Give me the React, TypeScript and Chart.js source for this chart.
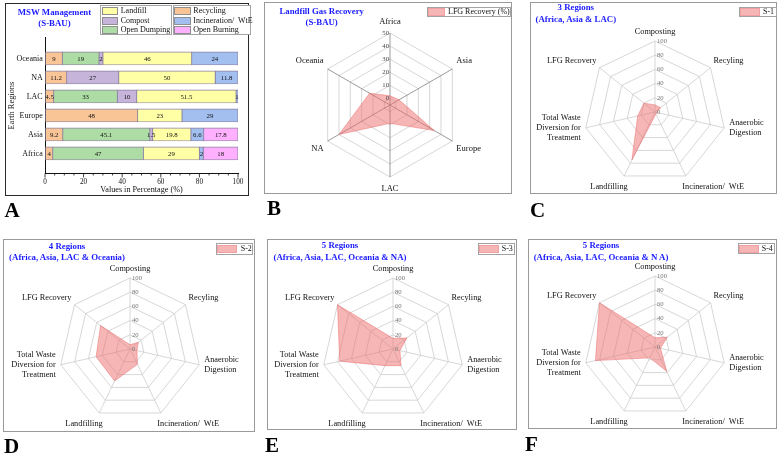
import React, { useEffect, useRef } from "react";
import { Chart, registerables } from "chart.js";

Chart.register(...registerables);

const SERIF = "'Liberation Serif', 'Times New Roman', serif";

// ---------- Panel A data ----------
const regions = ["Oceania", "NA", "LAC", "Europe", "Asia", "Africa"];
const recycling = [9, 11.2, 4.5, 48, 9.2, 4];
const openDumping = [19, null, 33, null, 45.1, 47];
const compost = [2, 27, 10, null, 1.5, null];
const landfill = [46, 50, 51.5, 23, 19.8, 29];
const incineration = [24, 11.8, 1, 29, 6.6, 2];
const openBurning = [null, null, null, null, 17.8, 18];
const percentTicks = [0, 20, 40, 60, 80, 100];
const minorTickStep = 5;

// ---------- Panel B data ----------
const lfgRegions = ["Africa", "Asia", "Europe", "LAC", "NA", "Oceania"];
const lfgRecovery = [2, 3, 34, 9, 40, 13];
const lfgTicks = [0, 10, 20, 30, 40, 50];

// ---------- Panels C-F data ----------
const methods = [
  ["Composting"],
  ["Recyling"],
  ["Anaerobic", "Digestion"],
  ["Incineration/  WtE"],
  ["Landfilling"],
  ["Total Waste", "Diversion for", "Treatment"],
  ["LFG Recovery"],
];
const scenario1 = [10, 10, 3, 3, 75, 25, 20];
const scenario2 = [6, 15, 10, 24, 50, 49, 53];
const scenario3 = [15, 25, 10, 26, 26, 77, 100];
const scenario4 = [13, 22, 8, 38, 17, 86, 100];
const diversionTicks = [0, 20, 40, 60, 80, 100];

// ---------- styles ----------
const barSeries = [
  { name: "Recycling", values: recycling, color: "#F9C597" },
  { name: "Open Dumping", values: openDumping, color: "#ADDCA5" },
  { name: "Compost", values: compost, color: "#C6B4DA" },
  { name: "Landfill", values: landfill, color: "#FFFFA6" },
  { name: "Incineration/  WtE", values: incineration, color: "#A2BFF0" },
  { name: "Open Burning", values: openBurning, color: "#FFB0FF" },
];
const barEdge = "#8a80a0";
const pinkFill = "rgba(240,110,110,0.5)";
const pinkEdge = "rgba(230,100,100,0.65)";
const titleBlue = "#1a1aff";

const barLabelPlugin = {
  id: "barLabels",
  afterDatasetsDraw(chart: any) {
    const ctx = chart.ctx;
    ctx.save();
    ctx.font = `6.8px ${SERIF}`;
    ctx.fillStyle = "#111";
    ctx.textAlign = "center";
    ctx.textBaseline = "middle";
    chart.data.datasets.forEach((ds: any, di: number) => {
      const meta = chart.getDatasetMeta(di);
      meta.data.forEach((el: any, i: number) => {
        const raw = ds.data[i];
        if (!raw) return;
        const p = el.getProps(["x", "y", "base"], true);
        ctx.fillText(String(raw.x), (p.x + p.base) / 2, p.y + 0.5);
      });
    });
    ctx.restore();
  },
};

const xTickMarks = {
  id: "xTickMarks",
  afterDraw(chart: any) {
    const xs = chart.scales.x;
    const ctx = chart.ctx;
    const b = chart.chartArea.bottom;
    ctx.save();
    ctx.strokeStyle = "#111";
    ctx.lineWidth = 0.8;
    for (let v = xs.min; v <= xs.max; v += minorTickStep) {
      const px = xs.getPixelForValue(v);
      const len = percentTicks.includes(v) ? 4 : 2;
      ctx.beginPath();
      ctx.moveTo(px, b);
      ctx.lineTo(px, b + len);
      ctx.stroke();
    }
    ctx.restore();
  },
};

function BarPanel() {
  const ref = useRef<HTMLCanvasElement>(null);
  useEffect(() => {
    const datasets = barSeries.map((s) => ({
      label: s.name,
      data: s.values.flatMap((v, i) => (v == null ? [] : [{ x: v, y: i }])),
      backgroundColor: s.color,
      borderColor: barEdge,
      borderWidth: 0.8,
      borderSkipped: false,
      barThickness: 13,
    }));
    const chart = new Chart(ref.current as HTMLCanvasElement, {
      type: "bar",
      data: { datasets } as any,
      options: {
        indexAxis: "y",
        responsive: false,
        animation: false,
        events: [],
        layout: { padding: { top: 37.6, left: 0, right: 12, bottom: 0 } },
        plugins: { legend: { display: false }, tooltip: { enabled: false } },
        scales: {
          x: {
            type: "linear",
            min: 0,
            max: 100,
            stacked: true,
            afterBuildTicks: (s: any) => {
              s.ticks = percentTicks.map((v) => ({ value: v }));
            },
            afterFit: (s: any) => {
              s.height = 26.5;
            },
            ticks: {
              font: { family: SERIF, size: 7.2 },
              color: "#111",
              padding: 4.5,
              maxRotation: 0,
              autoSkip: false,
            },
            grid: { drawOnChartArea: false, drawTicks: false },
            border: { display: true, color: "#111", width: 1 },
            title: {
              display: true,
              text: "Values in Percentage (%)",
              font: { family: SERIF, size: 8.2 },
              color: "#111",
              padding: { top: 0, bottom: 5 },
            },
          },
          y: {
            type: "linear",
            min: -0.5,
            max: 5.46,
            reverse: true,
            stacked: true,
            afterBuildTicks: (s: any) => {
              s.ticks = regions.map((_, i) => ({ value: i }));
            },
            afterFit: (s: any) => {
              s.width = 45;
            },
            ticks: {
              callback: (v: any) => regions[v as number],
              font: { family: SERIF, size: 8 },
              color: "#111",
              padding: 2.3,
              autoSkip: false,
            },
            grid: { drawOnChartArea: false, drawTicks: false },
            border: { display: true, color: "#111", width: 1 },
            title: {
              display: true,
              text: "Earth Regions",
              font: { family: SERIF, size: 8.4 },
              color: "#111",
              padding: { top: 7, bottom: 0 },
            },
          },
        },
      } as any,
      plugins: [barLabelPlugin, xTickMarks],
    });
    return () => chart.destroy();
  }, []);
  return (
    <canvas
      ref={ref}
      width={250}
      height={200}
      style={{ position: "absolute", left: 0, top: 0, width: 250, height: 200 }}
    />
  );
}

type LabelCfg = {
  topPad: number;
  bottomPad: number;
  upY: number;
  downY: number;
  diagX: number;
  lowDiagX: number;
  sideX: number;
};

type RadarProps = {
  rect: number[];
  center: number[];
  radius: number;
  labels: string[][];
  values: number[];
  seriesName: string;
  min: number;
  max: number;
  step: number;
  tickValues: number[];
  tickSide: "left" | "right";
  tickColor: string;
  gridColor: string;
  angleColor: string;
  lab: LabelCfg;
  labelSize: number;
};

function RadarPanel(props: RadarProps) {
  const ref = useRef<HTMLCanvasElement>(null);
  const [x0, y0, w, h] = props.rect;
  useEffect(() => {
    const [cx, cy] = props.center;
    const r = props.radius;
    const padding = {
      left: cx - r - x0,
      top: cy - r - y0,
      right: x0 + w - cx - r,
      bottom: y0 + h - cy - r,
    };
    const lab = props.lab;
    const decor = {
      id: "radarDecor",
      afterDraw(chart: any) {
        const s = chart.scales.r;
        const ctx = chart.ctx;
        ctx.save();
        // tick labels
        ctx.font = `6.7px ${SERIF}`;
        ctx.fillStyle = props.tickColor;
        ctx.textBaseline = "middle";
        ctx.textAlign = props.tickSide === "left" ? "right" : "left";
        props.tickValues.forEach((v) => {
          const d = s.getDistanceFromCenterForValue(v);
          const tx = props.tickSide === "left" ? s.xCenter - 1 : s.xCenter + 2;
          ctx.fillText(String(v), tx, s.yCenter - d);
        });
        // point labels
        const lh = props.labelSize * 1.22;
        ctx.font = `${props.labelSize}px ${SERIF}`;
        ctx.fillStyle = "#111";
        const n = props.labels.length;
        for (let i = 0; i < n; i++) {
          const p = s.getPointPosition(i, s.drawingArea);
          const th = (2 * Math.PI * i) / n;
          const sn = Math.sin(th);
          const cs = Math.cos(th);
          const L = props.labels[i];
          const hh = L.length * lh;
          let x = p.x;
          let yc = p.y;
          let align: CanvasTextAlign = "center";
          if (Math.abs(sn) < 0.05) {
            yc = cs > 0 ? p.y - lab.topPad - hh / 2 : p.y + lab.bottomPad + hh / 2;
          } else if (Math.abs(sn) > 0.9) {
            align = sn > 0 ? "left" : "right";
            x = p.x + Math.sign(sn) * lab.sideX;
          } else if (cs > 0) {
            align = sn > 0 ? "left" : "right";
            x = p.x + Math.sign(sn) * lab.diagX;
            yc = p.y - lab.upY;
          } else {
            align = sn > 0 ? "left" : "right";
            x = p.x + Math.sign(sn) * lab.lowDiagX;
            yc = p.y + lab.downY;
          }
          ctx.textAlign = align;
          L.forEach((t, k) => ctx.fillText(t, x, yc - hh / 2 + lh * (k + 0.5)));
        }
        ctx.restore();
      },
    };
    const chart = new Chart(ref.current as HTMLCanvasElement, {
      type: "radar",
      data: {
        labels: props.labels.map((l) => l.join(" ")),
        datasets: [
          {
            label: props.seriesName,
            data: props.values,
            backgroundColor: pinkFill,
            borderColor: pinkEdge,
            borderWidth: 0.7,
            pointRadius: 0,
            fill: "start",
          },
        ],
      },
      options: {
        responsive: false,
        animation: false,
        events: [],
        layout: { padding },
        plugins: { legend: { display: false }, tooltip: { enabled: false } },
        scales: {
          r: {
            min: props.min,
            max: props.max,
            ticks: { display: false, stepSize: props.step },
            pointLabels: { display: false },
            grid: { color: props.gridColor, lineWidth: 0.8 },
            angleLines: { color: props.angleColor, lineWidth: 0.8 },
          },
        },
      } as any,
      plugins: [decor],
    });
    return () => chart.destroy();
  }, []);
  return (
    <canvas
      ref={ref}
      width={w}
      height={h}
      style={{ position: "absolute", left: x0, top: y0, width: w, height: h }}
    />
  );
}

function Frame({ x, y, w, h, color, width }: any) {
  return (
    <div
      style={{
        position: "absolute",
        left: x,
        top: y,
        width: w,
        height: h,
        boxSizing: "border-box",
        border: `${width}px solid ${color}`,
        pointerEvents: "none",
      }}
    />
  );
}

function Title({ cx, y, lines, lh }: any) {
  return (
    <div
      style={{
        position: "absolute",
        left: cx - 100,
        width: 200,
        top: y - lh / 2,
        textAlign: "center",
        fontFamily: SERIF,
        fontWeight: "bold",
        fontSize: 8.8,
        lineHeight: `${lh}px`,
        color: titleBlue,
        whiteSpace: "pre",
      }}
    >
      {lines.map((l: string, i: number) => (
        <div key={i}>{l}</div>
      ))}
    </div>
  );
}

function Letter({ x, y, t }: any) {
  return (
    <div
      style={{
        position: "absolute",
        left: x,
        top: y,
        fontFamily: SERIF,
        fontWeight: "bold",
        fontSize: 21,
        lineHeight: "21px",
        color: "#000",
      }}
    >
      {t}
    </div>
  );
}

function LegendBox({ frame, items, swX, swW, swH, textX, size }: any) {
  const [fx, fy, fw, fh] = frame;
  return (
    <>
      <div
        style={{
          position: "absolute",
          left: fx,
          top: fy,
          width: fw,
          height: fh,
          boxSizing: "border-box",
          border: "1px solid #a3a3a3",
          background: "#fff",
        }}
      />
      {items.map((it: any, i: number) => (
        <React.Fragment key={i}>
          <div
            style={{
              position: "absolute",
              left: swX,
              top: it.cy - swH / 2,
              width: swW,
              height: swH,
              boxSizing: "border-box",
              background: it.color,
              border: `0.8px solid ${it.edge}`,
            }}
          />
          <div
            style={{
              position: "absolute",
              left: textX,
              top: it.cy - 6,
              height: 12,
              lineHeight: "12px",
              fontFamily: SERIF,
              fontSize: size,
              color: "#111",
              whiteSpace: "pre",
            }}
          >
            {it.label}
          </div>
        </React.Fragment>
      ))}
    </>
  );
}

const seriesByName = (n: string) => barSeries.find((s) => s.name === n)!;
const legendCol1 = ["Landfill", "Compost", "Open Dumping"];
const legendCol2 = ["Recycling", "Incineration/  WtE", "Open Burning"];
const legendRowsY = [10.7, 20.7, 30.3];

const labB: LabelCfg = { topPad: 6.4, bottomPad: 6.4, upY: 8, downY: 8, diagX: 4, lowDiagX: 4, sideX: 5 };
const labCF: LabelCfg = { topPad: 4.5, bottomPad: 4.5, upY: 6.5, downY: 11.2, diagX: 3, lowDiagX: -3.5, sideX: 5 };

const lightGrid = "#cdcdcd";

export default function App() {
  const pinkItem = (label: string, cy: number) => [{ label, cy, color: "#F7B6B6", edge: "#F0A0A0" }];
  return (
    <div
      style={{
        position: "absolute",
        left: 0,
        top: 0,
        width: 780,
        height: 457,
        background: "#fff",
        overflow: "hidden",
      }}
    >
      {/* Panel A */}
      <BarPanel />
      <Frame x={4.5} y={2.5} w={244} h={193} color="#2a2a2a" width={1.6} />
      <Title cx={54.5} y={12.7} lh={11.3} lines={["MSW Management", "(S-BAU)"]} />
      <LegendBox
        frame={[100, 5, 71.7, 30]}
        items={legendCol1.map((n, i) => ({ label: n, cy: legendRowsY[i], color: seriesByName(n).color, edge: "#8f8f8f" }))}
        swX={101.7}
        swW={16.6}
        swH={8.3}
        textX={120.7}
        size={8}
      />
      <LegendBox
        frame={[172.7, 5, 78.3, 30]}
        items={legendCol2.map((n, i) => ({ label: n, cy: legendRowsY[i], color: seriesByName(n).color, edge: "#8f8f8f" }))}
        swX={174}
        swW={17}
        swH={8.3}
        textX={193.3}
        size={8}
      />
      <Letter x={4.5} y={200.3} t="A" />

      {/* Panel B */}
      <RadarPanel
        rect={[264, 2, 248, 192]}
        center={[390, 105]}
        radius={72}
        labels={lfgRegions.map((r) => [r])}
        values={lfgRecovery}
        seriesName="LFG Recovery (%)"
        min={-5}
        max={50}
        step={10}
        tickValues={lfgTicks}
        tickSide="left"
        tickColor="#444"
        gridColor={lightGrid}
        angleColor="#808080"
        lab={labB}
        labelSize={8.5}
      />
      <Frame x={264} y={2} w={248} h={192} color="#9a9a9a" width={1} />
      <Title cx={321.7} y={11.7} lh={11.6} lines={["Landfill Gas Recovery", "(S-BAU)"]} />
      <LegendBox frame={[427, 6.7, 84, 10.6]} items={pinkItem("LFG Recovery (%)", 12)} swX={428.3} swW={16.7} swH={7.7} textX={448} size={8} />
      <Letter x={267} y={198} t="B" />

      {/* Panel C */}
      <RadarPanel
        rect={[530, 2, 247, 192]}
        center={[655.5, 112]}
        radius={71}
        labels={methods}
        values={scenario1}
        seriesName="S-1"
        min={0}
        max={100}
        step={20}
        tickValues={diversionTicks}
        tickSide="right"
        tickColor="#777"
        gridColor={lightGrid}
        angleColor={lightGrid}
        lab={labCF}
        labelSize={8.3}
      />
      <Frame x={530} y={2} w={247} h={192} color="#9a9a9a" width={1} />
      <Title cx={575.8} y={8.3} lh={11.7} lines={["3 Regions", "(Africa, Asia & LAC)"]} />
      <LegendBox frame={[739, 6.7, 37.7, 10.6]} items={pinkItem("S-1", 12)} swX={740} swW={20} swH={7.7} textX={763} size={8} />
      <Letter x={530} y={199.6} t="C" />

      {/* Panel D */}
      <RadarPanel
        rect={[3, 239, 252, 193]}
        center={[130, 349.3]}
        radius={71}
        labels={methods}
        values={scenario2}
        seriesName="S-2"
        min={0}
        max={100}
        step={20}
        tickValues={diversionTicks}
        tickSide="right"
        tickColor="#777"
        gridColor={lightGrid}
        angleColor={lightGrid}
        lab={labCF}
        labelSize={8.3}
      />
      <Frame x={3} y={239} w={252} h={193} color="#9a9a9a" width={1} />
      <Title cx={67} y={246.7} lh={11} lines={["4 Regions", "(Africa, Asia, LAC & Oceania)"]} />
      <LegendBox frame={[216, 243.3, 37.3, 11.7]} items={pinkItem("S-2", 249.1)} swX={216.7} swW={20.6} swH={8.3} textX={240.7} size={8} />
      <Letter x={4} y={436.3} t="D" />

      {/* Panel E */}
      <RadarPanel
        rect={[267, 239, 250, 191]}
        center={[393, 349]}
        radius={71}
        labels={methods}
        values={scenario3}
        seriesName="S-3"
        min={0}
        max={100}
        step={20}
        tickValues={diversionTicks}
        tickSide="right"
        tickColor="#777"
        gridColor={lightGrid}
        angleColor={lightGrid}
        lab={labCF}
        labelSize={8.3}
      />
      <Frame x={267} y={239} w={250} h={191} color="#9a9a9a" width={1} />
      <Title cx={340} y={246} lh={11.3} lines={["5 Regions", "(Africa, Asia, LAC, Oceania & NA)"]} />
      <LegendBox frame={[478.3, 243.3, 36.7, 11.7]} items={pinkItem("S-3", 249.1)} swX={479} swW={20.3} swH={8.3} textX={501.7} size={8} />
      <Letter x={265} y={434.6} t="E" />

      {/* Panel F */}
      <RadarPanel
        rect={[528, 239, 249, 190]}
        center={[655, 347]}
        radius={71}
        labels={methods}
        values={scenario4}
        seriesName="S-4"
        min={0}
        max={100}
        step={20}
        tickValues={diversionTicks}
        tickSide="right"
        tickColor="#777"
        gridColor={lightGrid}
        angleColor={lightGrid}
        lab={labCF}
        labelSize={8.3}
      />
      <Frame x={528} y={239} w={249} h={190} color="#9a9a9a" width={1} />
      <Title cx={601} y={246} lh={11.3} lines={["5 Regions", "(Africa, Asia, LAC, Oceania & N A)"]} />
      <LegendBox frame={[738.3, 243.3, 36.7, 11]} items={pinkItem("S-4", 248.8)} swX={739} swW={20.3} swH={8} textX={761.7} size={8} />
      <Letter x={525} y={433.6} t="F" />
    </div>
  );
}
